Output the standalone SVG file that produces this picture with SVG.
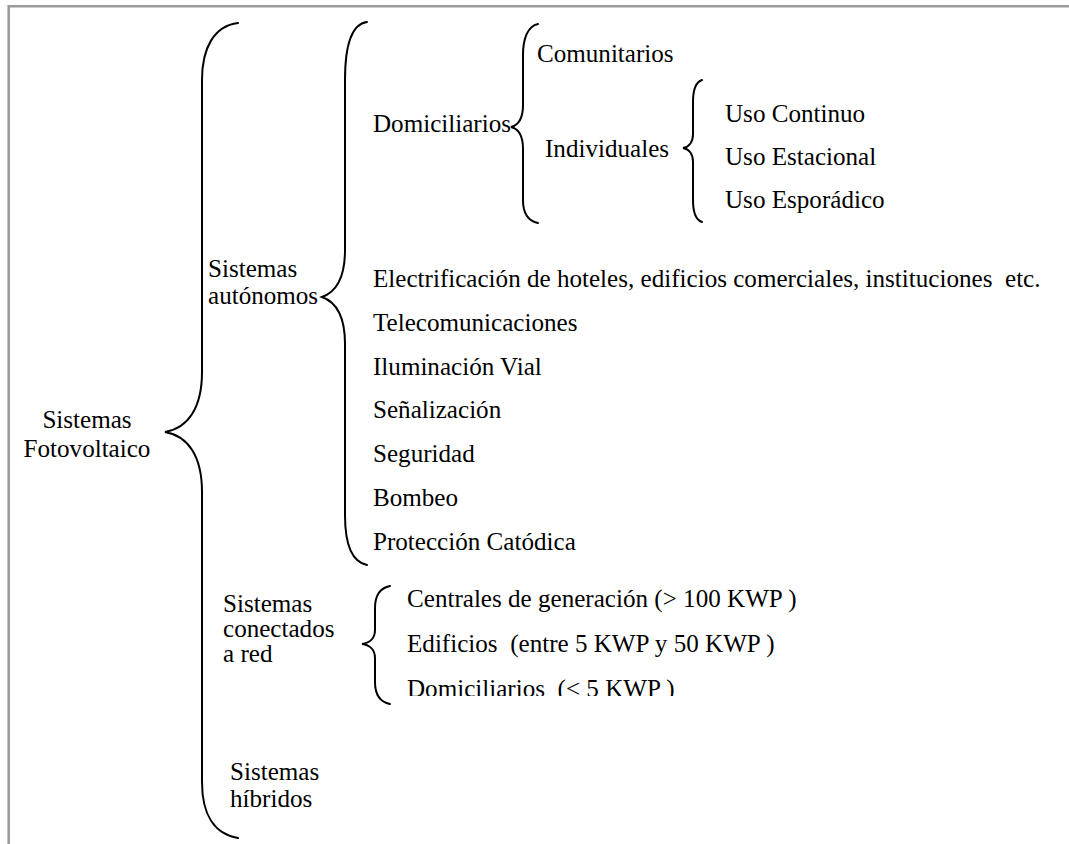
<svg xmlns="http://www.w3.org/2000/svg" width="1069" height="844" viewBox="0 0 1069 844">
<style>
.t{font-family:"Liberation Serif","Times New Roman",serif;font-size:25.1px;fill:#000}
.pre{white-space:pre}
.brace{fill:none;stroke:#000;stroke-width:2;stroke-linecap:round}
.frame{fill:none;stroke:#9c9c9c;stroke-width:2.6}
</style>
<defs>
<clipPath id="cut"><rect x="0" y="0" width="1069" height="696"/></clipPath>
</defs>
<rect width="1069" height="844" fill="#fff"/>
<path class="frame" d="M8.7 844 V6.2 H1069"/>
<g id="connectors">
<path class="brace" d="M238 23 C214 26,202 48,202 80 L202 372 C202 408,188 428,165 432 C188 436,202 456,202 492 L202 782 C202 814,214 834,238 838"/>
<path class="brace" d="M367 22 C352 24,345 45,345 80 L345 250 C345 278,336 292,322 297 C336 302,345 316,345 344 L345 515 C345 545,352 562,367 565"/>
<path class="brace" d="M538 24 C528 26,523 38,523 55 L523 105 C523 118,519 125,511 127 C519 129,523 136,523 149 L523 200 C523 214,528 221,538 223"/>
<path class="brace" d="M702 80 C696 82,693 90,693 102 L693 134 C693 142,689 147,683 148 C689 149,693 154,693 162 L693 200 C693 212,696 220,702 222"/>
<path class="brace" d="M390 586 C380 588,375 596,375 608 L375 630 C375 638,370 643,362 644 C370 645,375 650,375 658 L375 682 C375 694,380 702,390 704"/>
</g>
<g id="fotovoltaico"><text class="t" x="87" y="428" text-anchor="middle">Sistemas</text><text class="t" x="87" y="457" text-anchor="middle">Fotovoltaico</text></g>
<g id="autonomos"><text class="t" x="208" y="277">Sistemas</text><text class="t" x="208" y="304">autónomos</text></g>
<g id="domiciliarios"><text class="t" x="373" y="132">Domiciliarios</text></g>
<g id="comunitarios"><text class="t" x="537" y="62">Comunitarios</text></g>
<g id="individuales"><text class="t" x="545" y="157">Individuales</text></g>
<g id="uso-continuo"><text class="t" x="725" y="122">Uso Continuo</text></g>
<g id="uso-estacional"><text class="t" x="725" y="165">Uso Estacional</text></g>
<g id="uso-esporadico"><text class="t" x="725" y="208">Uso Esporádico</text></g>
<g id="electrificacion"><text class="t pre" x="373" y="287" xml:space="preserve">Electrificación de hoteles, edificios comerciales, instituciones  etc.</text></g>
<g id="telecomunicaciones"><text class="t" x="373" y="331">Telecomunicaciones</text></g>
<g id="iluminacion"><text class="t" x="373" y="375">Iluminación Vial</text></g>
<g id="senalizacion"><text class="t" x="373" y="418">Señalización</text></g>
<g id="seguridad"><text class="t" x="373" y="462">Seguridad</text></g>
<g id="bombeo"><text class="t" x="373" y="506">Bombeo</text></g>
<g id="proteccion"><text class="t" x="373" y="550">Protección Catódica</text></g>
<g id="conectados"><text class="t" x="223" y="612">Sistemas</text><text class="t" x="223" y="637">conectados</text><text class="t" x="223" y="662">a red</text></g>
<g id="centrales"><text class="t" x="407" y="607">Centrales de generación (&gt; 100 KWP )</text></g>
<g id="edificios"><text class="t pre" x="407" y="652" xml:space="preserve">Edificios  (entre 5 KWP y 50 KWP )</text></g>
<g id="domiciliarios-red" clip-path="url(#cut)"><text class="t pre" x="407" y="697" xml:space="preserve">Domiciliarios  (&lt; 5 KWP )</text></g>
<g id="hibridos"><text class="t" x="230" y="780">Sistemas</text><text class="t" x="230" y="807">híbridos</text></g>
</svg>
